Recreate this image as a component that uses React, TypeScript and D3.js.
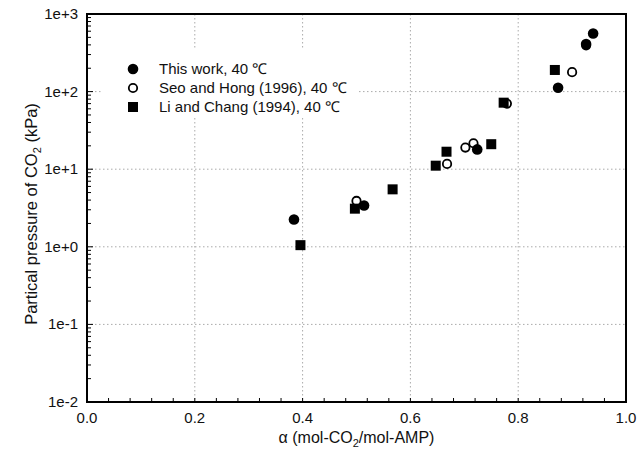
import React from "react";
import * as d3 from "d3";

const thisWorkAlpha = [0.384, 0.514, 0.724, 0.874, 0.926, 0.939];
const thisWorkP = [2.25, 3.4, 18.0, 112, 410, 560];

const seoAlpha = [0.5, 0.668, 0.702, 0.717, 0.779, 0.9, 0.926];
const seoP = [3.9, 11.7, 19.0, 21.6, 70, 178, 395];

const liAlpha = [0.396, 0.497, 0.567, 0.647, 0.667, 0.75, 0.773, 0.868];
const liP = [1.05, 3.1, 5.5, 11.1, 16.8, 21.0, 72, 190];

const xTicks = [0, 0.2, 0.4, 0.6, 0.8, 1.0];
const yTicks = [1e-2, 1e-1, 1e0, 1e1, 1e2, 1e3];
const yTickLabels = ["1e-2", "1e-1", "1e+0", "1e+1", "1e+2", "1e+3"];
const legendLabels = ["This work, 40 ℃", "Seo and Hong (1996), 40 ℃", "Li and Chang (1994), 40 ℃"];

const W = 637;
const H = 458;
const L = 87, R = 626, T = 14, B = 402;
const FONT = "Arial, 'Liberation Sans', Helvetica, sans-serif";

export default function App() {
  const x = d3.scaleLinear().domain([0, 1]).range([L, R]);
  const y = d3.scaleLog().domain([1e-2, 1e3]).range([B, T]);

  const xMinor = d3.range(0, 1.0001, 0.04);
  const yMinor: number[] = [];
  for (let e = -2; e < 3; e++) {
    for (let m = 2; m <= 9; m++) yMinor.push(m * Math.pow(10, e));
  }

  const gridX = xTicks.filter((t) => t > 0 && t < 1);
  const gridY = yTicks.filter((t) => t > 1e-2 && t < 1e3);

  const thisWork = thisWorkAlpha.map((a, i) => ({ a, p: thisWorkP[i] }));
  const seo = seoAlpha.map((a, i) => ({ a, p: seoP[i] }));
  const li = liAlpha.map((a, i) => ({ a, p: liP[i] }));

  const legX = 133, legY0 = 69, legDy = 19;

  return (
    <svg width={W} height={H} style={{ position: "absolute", left: 0, top: 0, background: "#fff" }} fontFamily={FONT}>
      <rect x={0} y={0} width={W} height={H} fill="#fff" />
      {/* grid */}
      {gridX.map((t) => (
        <line key={"gx" + t} x1={x(t)} x2={x(t)} y1={T} y2={B} stroke="#aaa" strokeWidth={1} strokeDasharray="1.5,2.5" />
      ))}
      {gridY.map((t) => (
        <line key={"gy" + t} x1={L} x2={R} y1={y(t)} y2={y(t)} stroke="#aaa" strokeWidth={1} strokeDasharray="1.5,2.5" />
      ))}
      {/* legend background */}
      <rect x={103} y={48} width={254} height={70} fill="#fff" />
      {/* minor ticks */}
      {xMinor.map((t, i) => (
        <line key={"xm" + i} x1={x(t)} x2={x(t)} y1={B} y2={B - 4} stroke="#000" strokeWidth={1} />
      ))}
      {yMinor.map((t, i) => (
        <line key={"ym" + i} x1={L} x2={L + 4} y1={y(t)} y2={y(t)} stroke="#000" strokeWidth={1} />
      ))}
      {yTicks.map((t) => (
        <line key={"yM" + t} x1={L} x2={L + 6} y1={y(t)} y2={y(t)} stroke="#000" strokeWidth={1} />
      ))}
      {/* frame */}
      <rect x={L} y={T} width={R - L} height={B - T} fill="none" stroke="#000" strokeWidth={2} />
      {/* tick labels */}
      {xTicks.map((t) => (
        <text key={"xl" + t} x={x(t)} y={B + 21} fontSize={15} textAnchor="middle" fill="#111">
          {t.toFixed(1)}
        </text>
      ))}
      {yTicks.map((t, i) => (
        <text key={"yl" + t} x={L - 9} y={y(t) + 5} fontSize={15} textAnchor="end" fill="#111">
          {yTickLabels[i]}
        </text>
      ))}
      {/* axis titles */}
      <text x={(L + R) / 2} y={443} fontSize={16} textAnchor="middle" fill="#111">
        α (mol-CO<tspan fontSize={11} dy={4}>2</tspan>
        <tspan dy={-4}>/mol-AMP)</tspan>
      </text>
      <text transform={`translate(37, ${(T + B) / 2 + 6}) rotate(-90)`} fontSize={16.5} textAnchor="middle" fill="#111">
        Partical pressure of CO<tspan fontSize={11} dy={4}>2</tspan>
        <tspan dy={-4}> (kPa)</tspan>
      </text>
      {/* data */}
      {seo.map((d, i) => (
        <circle key={"s" + i} cx={x(d.a)} cy={y(d.p)} r={4.2} fill="#fff" stroke="#000" strokeWidth={1.8} />
      ))}
      {li.map((d, i) => (
        <rect key={"l" + i} x={x(d.a) - 5} y={y(d.p) - 5} width={10} height={10} fill="#000" />
      ))}
      {thisWork.map((d, i) => (
        <circle key={"t" + i} cx={x(d.a)} cy={y(d.p)} r={5.3} fill="#000" />
      ))}
      {/* legend */}
      <circle cx={legX} cy={legY0} r={5.3} fill="#000" />
      <circle cx={legX} cy={legY0 + legDy} r={4.2} fill="#fff" stroke="#000" strokeWidth={1.8} />
      <rect x={legX - 5} y={legY0 + 2 * legDy - 5} width={10} height={10} fill="#000" />
      {legendLabels.map((s, i) => (
        <text key={"lg" + i} x={159} y={legY0 + i * legDy + 5} fontSize={15} fill="#111">
          {s}
        </text>
      ))}
    </svg>
  );
}
